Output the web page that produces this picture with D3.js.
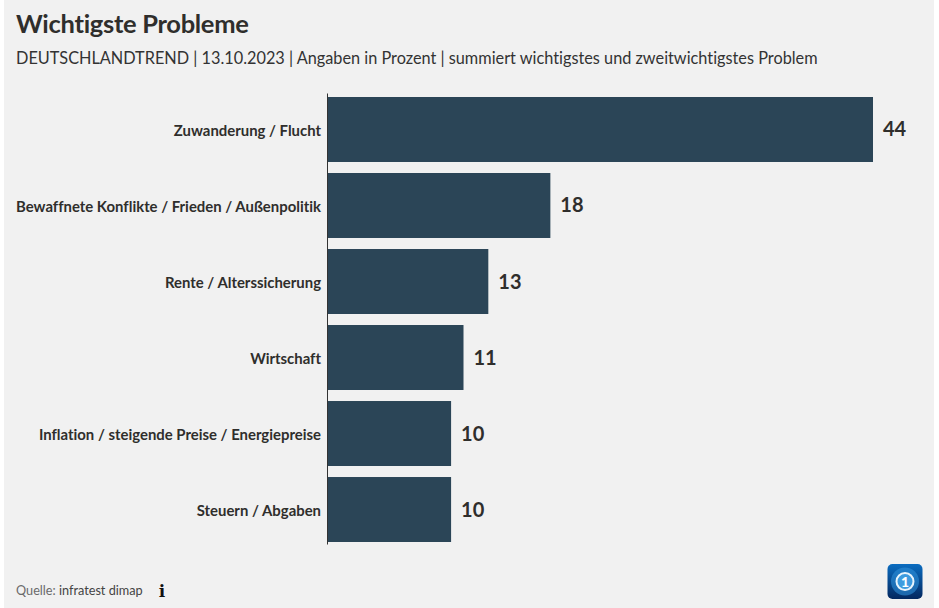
<!DOCTYPE html>
<html><head>
<meta charset="utf-8">
<title>Wichtigste Probleme</title>
<script src="https://d3js.org/d3.v7.min.js"></script>
<style>
  html, body { margin: 0; padding: 0; background: #fff; overflow: hidden; }
  svg { display: block; font-family: "Lato", sans-serif; font-variant-ligatures: none; }
</style>
</head>
<body>
<svg id="chart" width="939" height="608"></svg>
<script>
  const categories = ["Zuwanderung / Flucht", "Bewaffnete Konflikte / Frieden / Außenpolitik", "Rente / Alterssicherung", "Wirtschaft", "Inflation / steigende Preise / Energiepreise", "Steuern / Abgaben"];
  const values = [44, 18, 13, 11, 10, 10];
  const titleText = "Wichtigste Probleme";
  const subtitleText = "DEUTSCHLANDTREND | 13.10.2023 | Angaben in Prozent | summiert wichtigstes und zweitwichtigstes Problem";

  const svg = d3.select("#chart");
  const rows = categories.map((c, i) => ({ category: c, value: values[i] }));

  // grey panel, white strips stay on both sides
  svg.append("rect").attr("x", 4).attr("y", 0).attr("width", 930).attr("height", 608).attr("fill", "#f1f1f1");

  svg.append("text").attr("x", 16).attr("y", 33)
    .attr("font-size", 25.5).attr("font-weight", 700).attr("letter-spacing", -0.3).attr("fill", "#2f2e2c").text(titleText);
  svg.append("text").attr("x", 16).attr("y", 64)
    .attr("font-size", 16.3).attr("fill", "#333").text(subtitleText);

  const x = d3.scaleLinear().domain([0, 44]).range([327, 873]);
  const y = d3.scaleBand().domain(categories).range([93, 544]).paddingInner(0.145).paddingOuter(0.0395).align(0.667);

  svg.append("g").selectAll("rect").data(rows).join("rect")
    .attr("x", x(0))
    .attr("y", d => y(d.category))
    .attr("width", d => x(d.value) - x(0))
    .attr("height", y.bandwidth())
    .attr("fill", "#2b4557");

  // category axis, line only
  const axis = d3.axisLeft(y).tickSize(0).tickPadding(6);
  const axisG = svg.append("g").attr("transform", "translate(327,0)").call(axis);
  axisG.select(".domain").attr("stroke", "#333").attr("stroke-width", 1);
  axisG.selectAll("text")
    .attr("font-family", "Lato, sans-serif")
    .attr("font-size", 14.9).attr("font-weight", 700).attr("fill", "#2f2e2c")
    .attr("dy", "0.42em");

  svg.append("g").selectAll("text").data(rows).join("text")
    .attr("x", d => x(d.value) + 10)
    .attr("y", d => y(d.category) + y.bandwidth() / 2)
    .attr("dy", "0.35em")
    .attr("font-size", 20).attr("font-weight", 700).attr("fill", "#2f2e2c")
    .text(d => d.value);

  // source line
  const source = svg.append("text").attr("x", 16).attr("y", 595).attr("font-size", 12.7);
  source.append("tspan").attr("fill", "#6a6a6a").text("Quelle: ");
  source.append("tspan").attr("fill", "#444").text("infratest dimap");

  svg.append("text").attr("x", 162).attr("y", 597).attr("text-anchor", "middle")
    .attr("font-family", "'DejaVu Serif', serif").attr("font-size", 17).attr("font-weight", 700).attr("fill", "#111").text("i");

  // logo
  const grad = svg.append("defs").append("linearGradient").attr("id", "logoGrad")
    .attr("x1", 0).attr("y1", 0).attr("x2", 0).attr("y2", 1);
  grad.append("stop").attr("offset", 0).attr("stop-color", "#0a6cc0");
  grad.append("stop").attr("offset", 1).attr("stop-color", "#04285f");
  const logo = svg.append("g").attr("transform", "translate(905,581.5)");
  logo.append("rect").attr("x", -17.5).attr("y", -17.5).attr("width", 35).attr("height", 35).attr("rx", 5).attr("fill", "url(#logoGrad)");
  logo.append("circle").attr("r", 14).attr("fill", "#2f8fd8").attr("opacity", 0.6);
  logo.append("circle").attr("r", 8.5).attr("fill", "#3d9bdf").attr("stroke", "#e8f4fc").attr("stroke-width", 2);
  logo.append("text").attr("text-anchor", "middle").attr("y", 5).attr("font-size", 14).attr("font-weight", 900).attr("fill", "#fff").text("1");
</script>
</body></html>
